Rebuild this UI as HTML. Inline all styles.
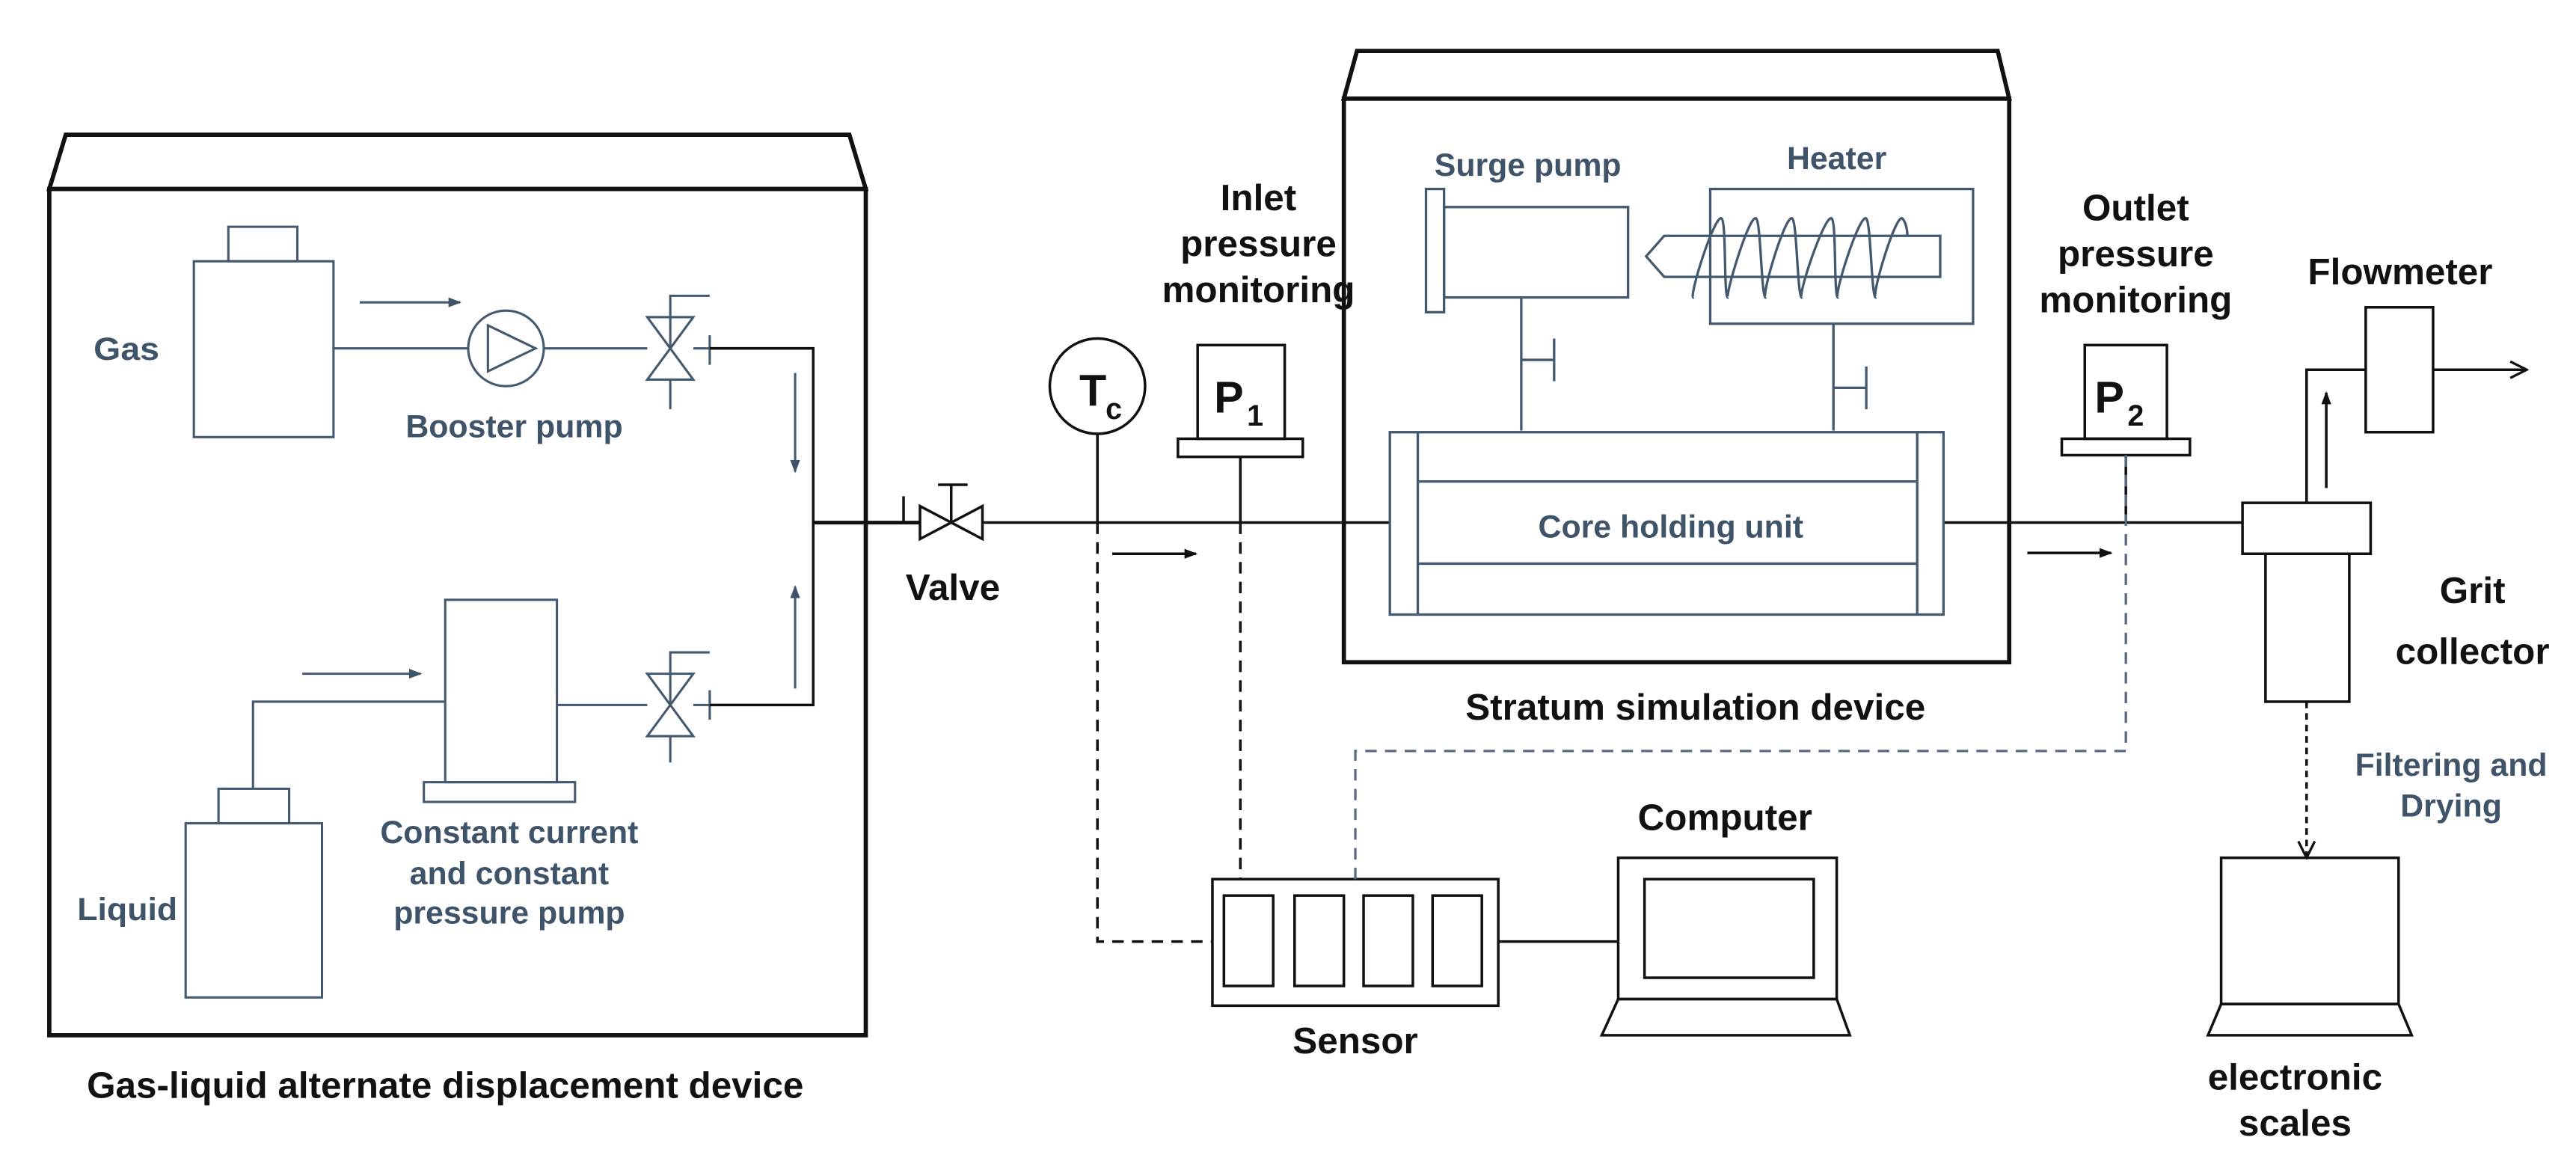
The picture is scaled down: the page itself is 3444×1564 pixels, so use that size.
<!DOCTYPE html>
<html><head><meta charset="utf-8"><style>
html,body{margin:0;padding:0;background:#fff;}
svg{display:block;}
text{font-family:"Liberation Sans",Arial,sans-serif;font-weight:bold;}
.b{fill:#111;font-size:22.5px;}
.g{fill:#3f5369;font-size:19.5px;}
</style></head><body>
<svg width="3444" height="1564" viewBox="0 0 1568 712" preserveAspectRatio="none" xmlns="http://www.w3.org/2000/svg">
<defs>
<marker id="ab" markerWidth="8" markerHeight="8" refX="7" refY="4" orient="auto" markerUnits="userSpaceOnUse"><path d="M0,1 L8,4 L0,7z" fill="#111"/></marker>
<marker id="ag" markerWidth="8" markerHeight="8" refX="7" refY="4" orient="auto" markerUnits="userSpaceOnUse"><path d="M0,1 L8,4 L0,7z" fill="#3f5369"/></marker>
<marker id="ao" markerWidth="12" markerHeight="12" refX="11" refY="6" orient="auto" markerUnits="userSpaceOnUse"><path d="M1,1 L11,6 L1,11" fill="none" stroke="#111" stroke-width="1.5"/></marker>
</defs>
<g fill="none" stroke="#111" stroke-width="2.6">
<path d="M30,115 L40,82 L517,82 L527,115 Z"/>
<rect x="30" y="115" width="497" height="515"/>
<path d="M818,60 L826,31 L1216,31 L1223,60 Z"/>
<rect x="818" y="60" width="405" height="343"/>
</g>
<g fill="none" stroke="#44586e" stroke-width="1.4">
<rect x="118" y="159" width="85" height="107"/>
<rect x="139" y="138" width="42" height="21"/>
<line x1="203" y1="212" x2="285" y2="212"/>
<circle cx="308" cy="212" r="23"/>
<path d="M297,198 L326,212 L297,226 Z"/>
<line x1="331" y1="212" x2="394" y2="212"/>
<path d="M394,193 L422,193 L394,231 L422,231 Z"/>
<path d="M408,212 L408,180 L432,180 M408,231 L408,249 M432,204 L432,222"/>
<line x1="422" y1="212" x2="432" y2="212"/>
<rect x="113" y="501" width="83" height="106"/>
<rect x="133" y="480" width="43" height="21"/>
<path d="M154,480 L154,427 L271,427"/>
<rect x="271" y="365" width="68" height="111"/>
<rect x="258" y="476" width="92" height="12"/>
<line x1="339" y1="429" x2="394" y2="429"/>
<path d="M394,410 L422,410 L394,448 L422,448 Z"/>
<path d="M408,429 L408,397 L432,397 M408,448 L408,464 M432,420 L432,438"/>
<line x1="422" y1="429" x2="432" y2="429"/>
<line x1="219" y1="184" x2="280" y2="184" marker-end="url(#ag)"/>
<line x1="184" y1="410" x2="256" y2="410" marker-end="url(#ag)"/>
<line x1="484" y1="227" x2="484" y2="287" marker-end="url(#ag)"/>
<line x1="484" y1="419" x2="484" y2="357" marker-end="url(#ag)"/>
</g>
<g fill="none" stroke="#111" stroke-width="1.6">
<path d="M432,212 L495,212 L495,429 L432,429"/>
<line x1="495" y1="318" x2="560" y2="318" stroke-width="2.2"/>
<line x1="550" y1="302" x2="550" y2="318"/>
<path d="M560,308 L560,328 L598,308 L598,328 Z"/>
<path d="M579,318 L579,295 M571,295 L589,295"/>
<line x1="598" y1="318" x2="846" y2="318"/>
<circle cx="668" cy="235" r="29"/>
<line x1="668" y1="264" x2="668" y2="318"/>
<rect x="729" y="210" width="53" height="57"/>
<rect x="717" y="267" width="76" height="11"/>
<line x1="755" y1="278" x2="755" y2="318"/>
<line x1="677" y1="337" x2="728" y2="337" marker-end="url(#ab)"/>
<path d="M668,318 L668,573 L738,573 M755,318 L755,535" stroke-dasharray="7,5"/>
<line x1="1183" y1="318" x2="1365" y2="318"/>
<line x1="1234" y1="336.5" x2="1285" y2="336.5" marker-end="url(#ab)"/>
<rect x="1269" y="210" width="50" height="57"/>
<rect x="1255" y="267" width="78" height="10"/>
<line x1="1294" y1="277" x2="1294" y2="318"/>
<rect x="738" y="535" width="174" height="77"/>
<rect x="745" y="545" width="30" height="55"/><rect x="788" y="545" width="30" height="55"/><rect x="830" y="545" width="30" height="55"/><rect x="872" y="545" width="30" height="55"/>
<line x1="912" y1="573" x2="985" y2="573"/>
<rect x="985" y="522" width="133" height="86"/>
<rect x="1001" y="535" width="103" height="60"/>
<path d="M985,608 L1118,608 L1126,630 L975,630 Z"/>
<rect x="1365" y="306" width="78" height="31"/>
<rect x="1379" y="337" width="51" height="90"/>
<path d="M1404,306 L1404,225 L1440,225"/>
<line x1="1416" y1="297" x2="1416" y2="239" marker-end="url(#ab)"/>
<rect x="1440" y="187" width="41" height="76"/>
<line x1="1481" y1="225" x2="1538" y2="225" marker-end="url(#ao)"/>
<line x1="1404" y1="427" x2="1404" y2="522" stroke-dasharray="4,3" marker-end="url(#ao)"/>
<rect x="1352" y="522" width="108" height="89"/>
<path d="M1352,611 L1460,611 L1468,630 L1344,630 Z"/>
</g>
<path d="M1294,277 L1294,457 L825,457 L825,535" fill="none" stroke="#5a6a80" stroke-width="1.5" stroke-dasharray="7,5"/>
<g fill="none" stroke="#44586e" stroke-width="1.5">
<rect x="868" y="115" width="11" height="75"/>
<rect x="879" y="126" width="112" height="55"/>
<path d="M926,181 L926,262 M926,219 L946,219 M946,206 L946,232"/>
<rect x="1041" y="115" width="160" height="82"/>
<path d="M1013,143.5 L1181,143.5 L1181,168.5 L1013,168.5 L1002,156 Z"/>
<path d="M1116,197 L1116,262 M1116,236 L1136,236 M1136,223 L1136,249"/>
<path d="M1031,181 C1027,183 1044,129 1048,133 C1051,136 1049,183 1052,181 C1049,183 1065,129 1069,133 C1072,136 1072,183 1075,181 C1071,183 1087,129 1091,133 C1094,136 1094,183 1097,181 C1093,183 1111,129 1115,133 C1118,136 1116,183 1119,181 C1115,183 1132,129 1136,133 C1139,136 1139,183 1142,181 C1138,183 1154,129 1158,133 C1160,135 1161,140 1161,143"/>
<rect x="846" y="263" width="337" height="111"/>
<path d="M863,263 L863,374 M1167,263 L1167,374 M863,293 L1167,293 M863,343 L1167,343"/>
</g>
<text class="g" x="57" y="219" textLength="40" lengthAdjust="spacingAndGlyphs">Gas</text>
<text class="g" x="313" y="266" text-anchor="middle">Booster pump</text>
<text class="g" x="47" y="560" textLength="61" lengthAdjust="spacingAndGlyphs">Liquid</text>
<text class="g" x="310" y="513" text-anchor="middle">Constant current</text>
<text class="g" x="310" y="538" text-anchor="middle">and constant</text>
<text class="g" x="310" y="562" text-anchor="middle">pressure pump</text>
<text class="b" x="271" y="668" text-anchor="middle">Gas-liquid alternate displacement device</text>
<text class="b" x="580" y="365" text-anchor="middle">Valve</text>
<text class="b" x="766" y="128" text-anchor="middle">Inlet</text>
<text class="b" x="766" y="156" text-anchor="middle">pressure</text>
<text class="b" x="766" y="184" text-anchor="middle">monitoring</text>
<text class="b" x="657" y="247" style="font-size:27px">T</text>
<text class="b" x="673" y="255" style="font-size:18px">c</text>
<text class="b" x="739" y="251" style="font-size:27px">P</text>
<text class="b" x="759" y="259" style="font-size:18px">1</text>
<text class="b" x="1275" y="251" style="font-size:27px">P</text>
<text class="b" x="1295" y="259" style="font-size:18px">2</text>
<text class="g" x="930" y="107" text-anchor="middle">Surge pump</text>
<text class="g" x="1118" y="103" text-anchor="middle">Heater</text>
<text class="g" x="1017" y="327" text-anchor="middle">Core holding unit</text>
<text class="b" x="1032" y="438" text-anchor="middle">Stratum simulation device</text>
<text class="b" x="1300" y="134" text-anchor="middle">Outlet</text>
<text class="b" x="1300" y="162" text-anchor="middle">pressure</text>
<text class="b" x="1300" y="190" text-anchor="middle">monitoring</text>
<text class="b" x="1461" y="173" text-anchor="middle">Flowmeter</text>
<text class="b" x="1505" y="367" text-anchor="middle">Grit</text>
<text class="b" x="1505" y="404" text-anchor="middle">collector</text>
<text class="g" x="1492" y="472" text-anchor="middle">Filtering and</text>
<text class="g" x="1492" y="497" text-anchor="middle">Drying</text>
<text class="b" x="1050" y="505" text-anchor="middle">Computer</text>
<text class="b" x="825" y="641" text-anchor="middle">Sensor</text>
<text class="b" x="1397" y="663" text-anchor="middle">electronic</text>
<text class="b" x="1397" y="691" text-anchor="middle">scales</text>
</svg>
</body></html>
